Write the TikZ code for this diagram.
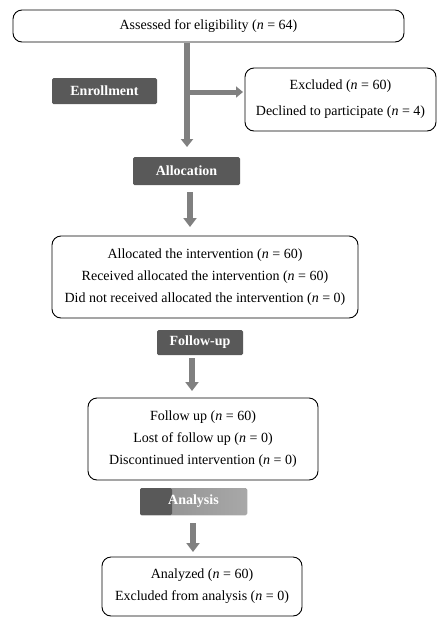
\documentclass[tikz,border=0pt]{standalone}
\usepackage{fontspec}
\setmainfont{Liberation Serif}
\usetikzlibrary{arrows.meta,backgrounds,calc}
\definecolor{lblgray}{HTML}{595959}
\definecolor{arrgray}{HTML}{808080}
\definecolor{anlA}{HTML}{8E8E8E}
\definecolor{anlB}{HTML}{A8A8A8}
\tikzset{
  box/.style={draw=black, line width=0.9pt, rounded corners=9pt, align=center,
    font=\fontsize{14}{22}\selectfont, inner sep=0pt},
  lbl/.style={fill=lblgray, text=white, font=\fontsize{14}{16}\selectfont\bfseries,
    inner sep=0pt, rounded corners=1.5pt},
  fat/.style={draw=arrgray, line width=5.5pt, -{Triangle[width=12pt,length=8pt]}},
  fatb/.style={draw=arrgray, line width=6.5pt, -{Triangle[width=13pt,length=9pt]}},
}
\newcommand\myglow[1]{%
  \begin{scope}[on background layer]
    \foreach \g in {1,...,4}{%
      \fill[black,opacity=0.09,rounded corners=3pt]
        ($(#1.south west)+(-\g*1pt,-\g*1pt-1pt)$) rectangle
        ($(#1.north east)+(\g*1pt,\g*1pt-1pt)$);}
  \end{scope}}
\begin{document}
\begin{tikzpicture}[x=1pt,y=-1pt]
\useasboundingbox[fill=white] (0,0) rectangle (438,619);

% boxes
\node[box, minimum width=391pt, minimum height=32pt] (assess) at (208.5,26)
  {Assessed for eligibility (\textit{n} = 64)};
\node[box, minimum width=191pt, minimum height=63pt, font=\fontsize{14}{26}\selectfont] (excl) at (340.5,99.5)
  {Excluded (\textit{n} = 60)\\Declined to participate (\textit{n} = 4)};
\node[box, minimum width=306pt, minimum height=82pt] (alloc) at (205,277)
  {Allocated the intervention (\textit{n} = 60)\\Received allocated the intervention (\textit{n} = 60)\\Did not received allocated the intervention (\textit{n} = 0)};
\node[box, minimum width=230pt, minimum height=82pt] (follow) at (203,439)
  {Follow up (\textit{n} = 60)\\Lost of follow up (\textit{n} = 0)\\Discontinued intervention (\textit{n} = 0)};
\node[box, minimum width=200pt, minimum height=59pt] (analyzed) at (202,586.5)
  {Analyzed (\textit{n} = 60)\\Excluded from analysis (\textit{n} = 0)};

% stage labels
\node[lbl, minimum width=105pt, minimum height=26pt] (lenroll) at (104.5,91) {Enrollment};
\node[lbl, minimum width=107pt, minimum height=28pt] (lalloc) at (186.5,171) {Allocation};
\node[lbl, minimum width=86pt, minimum height=25pt] (lfollow) at (200,342.5) {Follow-up};
\node[lbl, minimum width=107pt, minimum height=27pt, shade, left color=anlA, right color=anlB,
  path picture={\fill[lblgray] (path picture bounding box.south west) rectangle
     ([xshift=32pt]path picture bounding box.north west);}] (lanal) at (193.5,501.5) {Analysis};
\myglow{lenroll}
\myglow{lalloc}
\myglow{lfollow}
\myglow{lanal}

% arrows
\coordinate (m0) at (187,42.5);
\coordinate (m1) at (187,147);
\coordinate (h0) at (187,92);
\coordinate (h1) at (243,92);
\draw[fat] (m0) -- (m1);
\draw[draw=arrgray, line width=5pt, -{Triangle[width=11pt,length=7pt]}] (h0) -- (h1);
\coordinate (p0) at (190,192);
\coordinate (p1) at (190,227);
\draw[fatb] (p0) -- (p1);
\coordinate (q0) at (192,358);
\coordinate (q1) at (192,391);
\draw[fatb] (q0) -- (q1);
\coordinate (r0) at (193,523);
\coordinate (r1) at (193,552);
\draw[fatb] (r0) -- (r1);
\end{tikzpicture}
\end{document}
